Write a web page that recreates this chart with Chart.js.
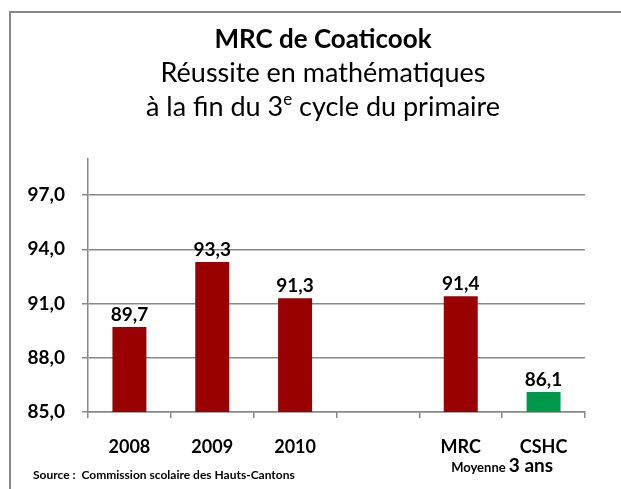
<!DOCTYPE html>
<html>
<head>
<meta charset="utf-8">
<script src="https://cdn.jsdelivr.net/npm/chart.js@4"></script>
<style>
  html, body { margin: 0; padding: 0; background: #fff; }
  canvas { display: block; }
</style>
</head>
<body>
<canvas id="chart" width="621" height="489"></canvas>
<script>
// Data
const categories = ['2008', '2009', '2010', '', 'MRC', 'CSHC'];
const successRates = [89.7, 93.3, 91.3, null, 91.4, 86.1];
const barColors = ['#990000', '#990000', '#990000', '#990000', '#990000', '#00994c'];
const yTicks = [85, 88, 91, 94, 97];

const FONT = 'Lato, "Open Sans", sans-serif';
const fmt = v => v.toFixed(1).replace('.', ',');

// Title block, frame, bar values and the "Moyenne 3 ans" caption
const decorations = {
  id: 'decorations',
  afterDraw(chart) {
    const ctx = chart.ctx;
    ctx.save();

    // frame (top and left edges only)
    ctx.strokeStyle = '#888888';
    ctx.lineWidth = 2;
    ctx.beginPath();
    ctx.moveTo(10, 489);
    ctx.lineTo(10, 12);
    ctx.lineTo(621, 12);
    ctx.stroke();

    // titles
    const cx = 323;
    ctx.fillStyle = '#000';
    ctx.textAlign = 'center';
    ctx.textBaseline = 'alphabetic';
    ctx.font = 'bold 26px ' + FONT;
    ctx.fillText('MRC de Coaticook', cx, 48);
    ctx.font = '27px ' + FONT;
    ctx.fillText('Réussite en mathématiques', cx, 82);

    // third line with superscript "e"
    const a = 'à la fin du 3', sup = 'e', b = ' cycle du primaire';
    ctx.font = '27px ' + FONT;
    const wa = ctx.measureText(a).width, wb = ctx.measureText(b).width;
    ctx.font = '17px ' + FONT;
    const ws = ctx.measureText(sup).width;
    let x = cx - (wa + ws + wb) / 2;
    ctx.textAlign = 'left';
    ctx.font = '27px ' + FONT;
    ctx.fillText(a, x, 116);
    x += wa;
    ctx.font = '17px ' + FONT;
    ctx.fillText(sup, x, 105);
    x += ws;
    ctx.font = '27px ' + FONT;
    ctx.fillText(b, x, 116);

    // values above the bars
    ctx.textAlign = 'center';
    ctx.font = 'bold 19px ' + FONT;
    const meta = chart.getDatasetMeta(0);
    meta.data.forEach((bar, i) => {
      const v = successRates[i];
      if (v == null) return;
      ctx.fillText(fmt(v), bar.x, bar.y - 6);
    });

    // "Moyenne 3 ans" under MRC / CSHC
    const xs = chart.scales.x;
    const mid = (xs.getPixelForValue(4) + xs.getPixelForValue(5)) / 2;
    const p1 = 'Moyenne ', p2 = '3 ans';
    ctx.font = 'bold 13px ' + FONT;
    const w1 = ctx.measureText(p1).width;
    ctx.font = 'bold 19px ' + FONT;
    const w2 = ctx.measureText(p2).width;
    let mx = mid - (w1 + w2) / 2;
    ctx.textAlign = 'left';
    ctx.font = 'bold 13px ' + FONT;
    ctx.fillText(p1, mx, 472);
    ctx.font = 'bold 19px ' + FONT;
    ctx.fillText(p2, mx + w1, 472);

    // source
    ctx.font = 'bold 12px ' + FONT;
    ctx.fillText('Source :  Commission scolaire des Hauts-Cantons', 33, 479);

    ctx.restore();
  }
};

new Chart(document.getElementById('chart'), {
  type: 'bar',
  data: {
    labels: categories,
    datasets: [{
      data: successRates,
      backgroundColor: barColors,
      barPercentage: 0.41,
      categoryPercentage: 1
    }]
  },
  options: {
    responsive: false,
    animation: false,
    layout: { padding: { top: 159, right: 36, left: 0, bottom: 0 } },
    plugins: {
      legend: { display: false },
      tooltip: { enabled: false }
    },
    scales: {
      x: {
        afterFit: s => { s.height = 77; },
        grid: {
          offset: true,
          drawOnChartArea: false,
          drawTicks: true,
          tickLength: 6,
          color: '#888888',
          lineWidth: 1.5
        },
        border: { display: true, color: '#888888', width: 1.5 },
        ticks: {
          color: '#000',
          padding: 18,
          font: { family: FONT, weight: 'bold', size: 18 }
        }
      },
      y: {
        min: 85,
        max: 99,
        afterFit: s => { s.width = 88; },
        afterBuildTicks: s => { s.ticks = yTicks.map(v => ({ value: v })); },
        grid: {
          drawTicks: true,
          tickLength: 6,
          color: '#888888',
          lineWidth: 1.5
        },
        border: { display: true, color: '#888888', width: 1.5 },
        ticks: {
          color: '#000',
          padding: 17,
          font: { family: FONT, weight: 'bold', size: 19 },
          callback: v => fmt(v)
        }
      }
    }
  },
  plugins: [decorations]
});
</script>
</body>
</html>
